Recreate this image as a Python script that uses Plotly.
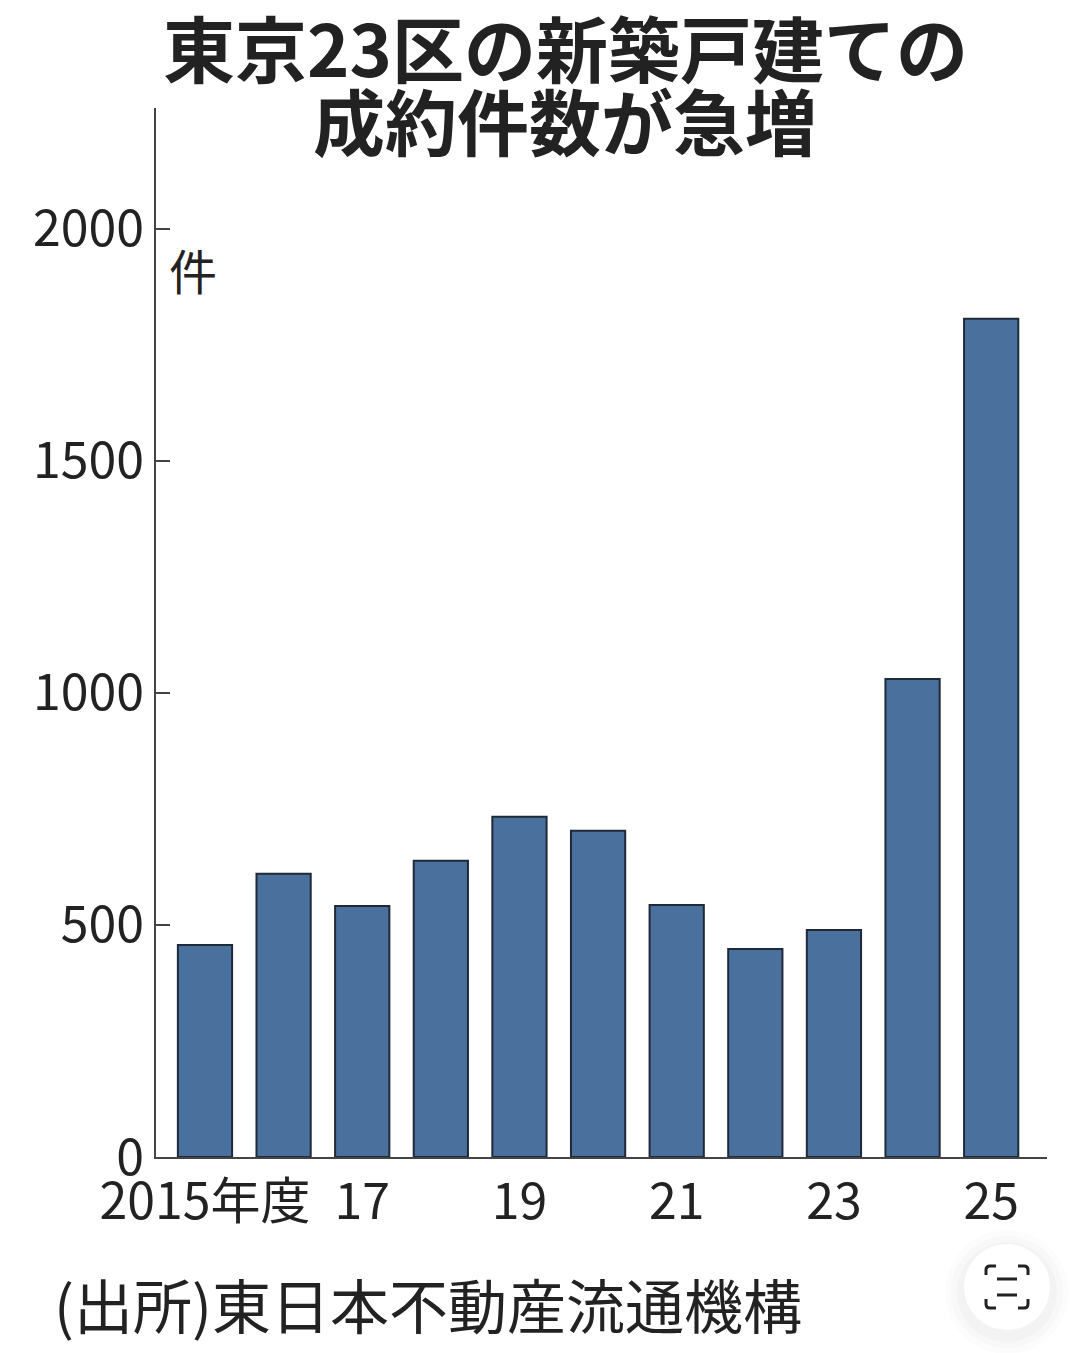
import plotly.graph_objects as go

years = [2015, 2016, 2017, 2018, 2019, 2020, 2021, 2022, 2023, 2024, 2025]
contracts = [457, 610, 541, 638, 733, 703, 543, 448, 489, 1030, 1806]

x_ticks = [2015, 2017, 2019, 2021, 2023, 2025]
x_labels = ["2015年度", "17", "19", "21", "23", "25"]
y_ticks = [0, 500, 1000, 1500, 2000]

# page has an 8px body margin, so the figure starts at (8, 8)
OFFSET = 8
W = 1080 - OFFSET
H = 1353 - OFFSET
CJK = "'Noto Sans CJK JP', sans-serif"
INK = "#222222"


# screenshot pixels -> paper coords
def px(x):
    return (x - OFFSET) / W


def py(y):
    return 1 - (y - OFFSET) / H


fig = go.Figure()

fig.add_trace(go.Bar(x=years, y=contracts,
                     marker=dict(color="#4a709e", line=dict(color="#1f2a38", width=2)),
                     width=0.69))

fig.update_layout(
    width=W, height=H,
    margin=dict(l=0, r=0, t=0, b=0, autoexpand=False),
    paper_bgcolor="white", plot_bgcolor="white",
    showlegend=False,
    font=dict(family=CJK, color=INK),
)

fig.update_xaxes(domain=[px(156), px(1047)], range=[2014.377, 2025.71],
                 tickmode="array", tickvals=x_ticks, ticktext=x_labels, tickangle=0,
                 ticks="", showgrid=False, zeroline=False,
                 showline=True, linecolor="#444444", linewidth=2,
                 tickfont=dict(family=CJK, size=50, color=INK))

fig.update_yaxes(domain=[py(1157), py(108)], range=[0, 2260],
                 tickmode="array", tickvals=y_ticks,
                 ticks="inside", ticklen=14, tickwidth=2, tickcolor="#444444",
                 showgrid=False, zeroline=False,
                 showline=True, linecolor="#444444", linewidth=2,
                 tickfont=dict(family=CJK, size=50, color=INK))

# title, two lines placed separately because the line spacing is tight
for text, y in [("東京23区の新築戸建ての", 45), ("成約件数が急増", 119)]:
    fig.add_annotation(text="<b>" + text + "</b>", xref="paper", yref="paper",
                       x=px(565), y=py(y), showarrow=False, xanchor="center", yanchor="middle",
                       font=dict(family=CJK, size=72, color=INK))

fig.add_annotation(text="件", xref="paper", yref="paper", x=px(193), y=py(269),
                   showarrow=False, xanchor="center", yanchor="middle",
                   font=dict(family=CJK, size=48, color=INK))

fig.add_annotation(text="(出所)東日本不動産流通機構", xref="paper", yref="paper",
                   x=px(52), y=py(1303), showarrow=False, xanchor="left", yanchor="middle",
                   font=dict(family=CJK, size=59, color=INK))


# screen overlay button in the corner of the photo
def circle(cx, cy, r, fill):
    fig.add_shape(type="circle", xref="paper", yref="paper",
                  x0=px(cx - r), x1=px(cx + r), y0=py(cy - r), y1=py(cy + r),
                  fillcolor=fill, line=dict(width=0))


for r, fill in [(62, "rgba(0,0,0,0.012)"), (56, "rgba(0,0,0,0.015)"), (50, "rgba(0,0,0,0.02)")]:
    circle(1007, 1292, r, fill)
circle(1007, 1287, 43, "white")

# corner brackets of the icon
for sx, sy in [(-1, -1), (1, -1), (-1, 1), (1, 1)]:
    ex = 1007 + sx * 21
    ey = 1287 + sy * 21
    path = (f"M {px(ex)} {py(ey - sy * 9)} L {px(ex)} {py(ey - sy * 4)} "
            f"Q {px(ex)} {py(ey)} {px(ex - sx * 4)} {py(ey)} L {px(ex - sx * 10)} {py(ey)}")
    fig.add_shape(type="path", xref="paper", yref="paper", path=path,
                  line=dict(color="#222222", width=3))
for x0, x1, y in [(997, 1017, 1279), (997, 1017, 1295)]:
    fig.add_shape(type="line", xref="paper", yref="paper",
                  x0=px(x0), x1=px(x1), y0=py(y), y1=py(y),
                  line=dict(color="#222222", width=3))

fig.write_html("out.html")
